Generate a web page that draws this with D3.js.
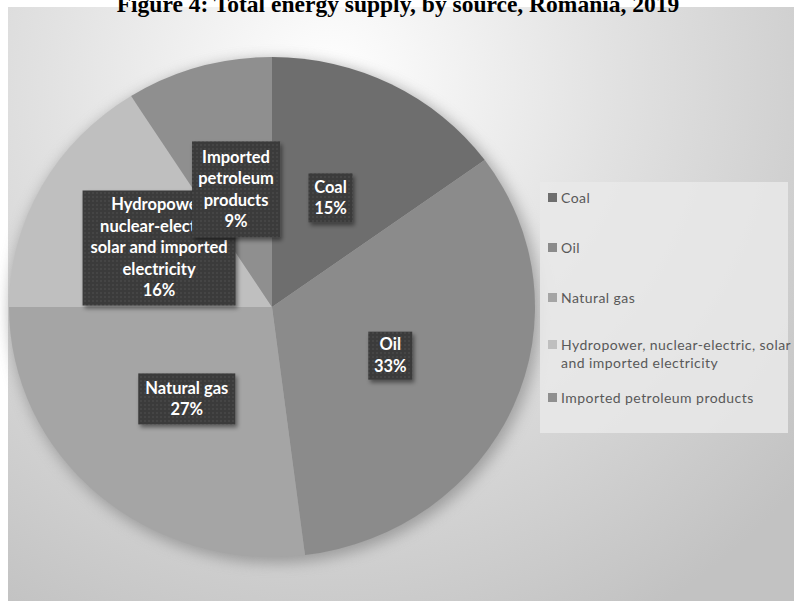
<!DOCTYPE html>
<html>
<head>
<meta charset="utf-8">
<script src="https://cdn.jsdelivr.net/npm/d3@7"></script>
<style>
  body { margin: 0; background: #fff; }
  svg { display: block; }
</style>
</head>
<body>
<div id="chart"></div>
<script>
const width = 794;
const height = 601;

const sources = ["Coal", "Oil", "Natural gas", "Hydropower, nuclear-electric, solar and imported electricity", "Imported petroleum products"];
const shares = [15, 33, 27, 16, 9];
const legendLines = [["Coal"], ["Oil"], ["Natural gas"], ["Hydropower, nuclear-electric, solar", "and imported electricity"], ["Imported petroleum products"]];
const labelLines = [["Coal"], ["Oil"], ["Natural gas"], ["Hydropower,", "nuclear-electric,", "solar and imported", "electricity"], ["Imported", "petroleum", "products"]];
const shades = ["#6e6e6e", "#8b8b8b", "#a5a5a5", "#bfbfbf", "#8f8f8f"];

const svg = d3.select("#chart").append("svg").attr("width", width).attr("height", height);
const defs = svg.append("defs");

const bg = defs.append("radialGradient").attr("id", "bg")
  .attr("gradientUnits", "userSpaceOnUse")
  .attr("cx", 330).attr("cy", 80).attr("r", 620);
bg.append("stop").attr("offset", "0%").attr("stop-color", "#ffffff");
bg.append("stop").attr("offset", "45%").attr("stop-color", "#e2e2e2");
bg.append("stop").attr("offset", "100%").attr("stop-color", "#c2c2c2");

const blur = defs.append("filter").attr("id", "glow").attr("x", "-20%").attr("y", "-20%").attr("width", "140%").attr("height", "140%");
blur.append("feGaussianBlur").attr("stdDeviation", 7);

const boxShadow = defs.append("filter").attr("id", "boxshadow").attr("x", "-20%").attr("y", "-20%").attr("width", "150%").attr("height", "150%");
boxShadow.append("feDropShadow").attr("dx", 2).attr("dy", 3).attr("stdDeviation", 2).attr("flood-color", "#000").attr("flood-opacity", 0.45);

const dots = defs.append("pattern").attr("id", "dots").attr("patternUnits", "userSpaceOnUse").attr("width", 4).attr("height", 4);
dots.append("rect").attr("width", 4).attr("height", 4).attr("fill", "#3a3a3a");
dots.append("rect").attr("x", 0).attr("y", 0).attr("width", 2).attr("height", 2).attr("fill", "#454545");

svg.append("rect").attr("x", 8).attr("y", 7).attr("width", width - 8).attr("height", height - 7).attr("fill", "url(#bg)");

// title (partly cut off at the top)
svg.append("text")
  .attr("x", 398).attr("y", 12)
  .attr("text-anchor", "middle")
  .attr("font-family", "Liberation Serif, Times New Roman, serif")
  .attr("font-weight", "bold")
  .attr("font-size", 23.5)
  .text("Figure 4: Total energy supply, by source, Romania, 2019");

// elliptical pie
const cx = 272, cy = 307, rx = 263, ry = 250;
const pie = d3.pie().sort(null).value((d) => d);
const arcs = pie(shares);
const arc = d3.arc().innerRadius(0).outerRadius(ry);
const labelArc = d3.arc().innerRadius(ry * 0.49).outerRadius(ry * 0.49);

const pieG = svg.append("g").attr("transform", `translate(${cx},${cy}) scale(${rx / ry},1)`);
pieG.append("circle").attr("cx", 3).attr("cy", 4).attr("r", ry + 2).attr("fill", "#7a7a7a").attr("opacity", 0.6).attr("filter", "url(#glow)");
pieG.selectAll("path.slice")
  .data(arcs)
  .join("path")
  .attr("class", "slice")
  .attr("d", arc)
  .attr("fill", (d, i) => shades[i]);

// data labels
const lineH = 21.5;
const labels = svg.append("g")
  .attr("font-family", "Lato, Open Sans, sans-serif")
  .attr("font-weight", "bold")
  .attr("font-size", 16.5)
  .attr("fill", "#fff")
  .attr("text-anchor", "middle");

const labelBox = { 0: [44, 49], 1: [44, 48], 2: [97, 51], 3: [153, 115], 4: [88, 96] };
// hydro first so the imported box overlaps it
[0, 1, 2, 3, 4].forEach((i) => {
  const d = arcs[i];
  const c = labelArc.centroid(d);
  const px = cx + c[0] * rx / ry;
  const py = cy + c[1];
  const lines = labelLines[i].concat([`${shares[i]}%`]);
  const [bw, bh] = labelBox[i];
  const g = labels.append("g");
  g.append("rect")
    .attr("x", px - bw / 2).attr("y", py - bh / 2)
    .attr("width", bw).attr("height", bh)
    .attr("fill", "url(#dots)")
    .attr("filter", "url(#boxshadow)");
  const clipId = `clip${i}`;
  defs.append("clipPath").attr("id", clipId).append("rect")
    .attr("x", px - bw / 2).attr("y", py - bh / 2).attr("width", bw).attr("height", bh);
  g.selectAll("text")
    .data(lines)
    .join("text")
    .attr("clip-path", `url(#${clipId})`)
    .attr("x", px)
    .attr("y", (t, j) => py - ((lines.length - 1) * lineH) / 2 + j * lineH + 5.5)
    .text((t) => t);
});

// legend
const legend = svg.append("g").attr("transform", "translate(540,182)");
legend.append("rect").attr("width", 248).attr("height", 251).attr("fill", "#e9e9e9").attr("opacity", 0.85);
const rowY = [16, 66, 116, 163, 216];
const item = legend.selectAll("g.item")
  .data(sources)
  .join("g")
  .attr("class", "item")
  .attr("transform", (d, i) => `translate(8,${rowY[i]})`);
item.append("rect").attr("x", 0).attr("y", -5).attr("width", 9).attr("height", 9).attr("fill", (d, i) => shades[i]);
item.each(function (d, i) {
  d3.select(this).selectAll("text")
    .data(legendLines[i])
    .join("text")
    .attr("x", 13)
    .attr("y", (t, j) => 5 + j * 18)
    .attr("font-family", "Lato, Open Sans, sans-serif")
    .attr("font-size", 14)
    .attr("letter-spacing", 0.45)
    .attr("fill", "#595959")
    .text((t) => t);
});
</script>
</body>
</html>
